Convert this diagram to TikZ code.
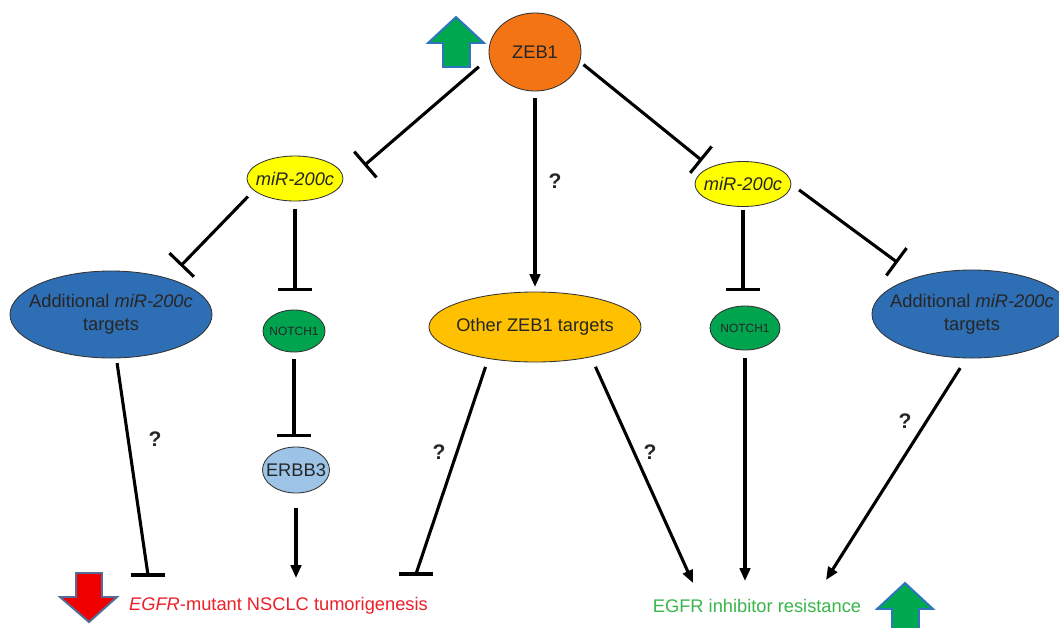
\documentclass[tikz,border=0pt]{standalone}
\usepackage{fontspec}
\setmainfont{Liberation Sans}
\usetikzlibrary{arrows.meta, shapes.geometric}
\definecolor{zeborange}{RGB}{242,116,20}
\definecolor{mirYellow}{RGB}{255,255,0}
\definecolor{tgtblue}{RGB}{46,110,180}
\definecolor{notchgreen}{RGB}{0,163,78}
\definecolor{erbbblue}{RGB}{157,195,230}
\definecolor{othergold}{RGB}{255,192,0}
\definecolor{upgreen}{RGB}{0,168,80}
\definecolor{edgeblue}{RGB}{46,117,190}
\definecolor{downred}{RGB}{240,0,0}
\definecolor{downedge}{RGB}{80,110,150}
\definecolor{tumred}{RGB}{236,32,40}
\definecolor{resgreen}{RGB}{57,181,74}

\begin{document}
\begin{tikzpicture}[
    x=0.025cm, y=-0.025cm,
    oval/.style={ellipse, draw=black!80, line width=0.6pt, inner sep=0pt, outer sep=0pt, text=black!85, font=\fontsize{13}{16.3}\selectfont},
    small/.style={font=\fontsize{8.5}{10}\selectfont},
    act/.style={-{Triangle[length=3.2mm,width=2.6mm]}, line width=2.2pt},
    inh/.style={-{Bar[width=8.5mm]}, line width=2.2pt},
    flat/.style={line width=2.2pt},
    qmark/.style={font=\fontsize{15}{18}\selectfont\bfseries, text=black!85},
    blockarr/.style={line width=1.4pt, line join=miter}
]
    \clip (0,0) rectangle (1059,627);

    % ellipses
    \node (zeb) [oval, fill=zeborange, minimum width=23mm, minimum height=19.5mm] at (535,52) {\makebox[0pt]{ZEB1}};
    \node (mirL) [oval, fill=mirYellow, minimum width=24mm, minimum height=11.25mm] at (295,178.5) {\makebox[0pt]{\textit{miR-200c}}};
    \node (mirR) [oval, fill=mirYellow, minimum width=24mm, minimum height=11.25mm] at (743,184) {\makebox[0pt]{\textit{miR-200c}}};
    \node (addL) [oval, fill=tgtblue, minimum width=50.5mm, minimum height=21.75mm] at (111,314.5) {\makebox[0pt]{\begin{tabular}{@{}c@{}}Additional \textit{miR-200c}\\targets\end{tabular}}};
    \node (notL) [oval, small, fill=notchgreen, minimum width=15.5mm, minimum height=10.5mm] at (294,331) {\makebox[0pt]{NOTCH1}};
    \node (erbb) [oval, fill=erbbblue, minimum width=16.75mm, minimum height=11.5mm] at (296,470) {\makebox[0pt]{ERBB3}};
    \node (other) [oval, fill=othergold, minimum width=53mm, minimum height=17.5mm] at (535,327) {\makebox[0pt]{Other ZEB1 targets}};
    \node (notR) [oval, small, fill=notchgreen, minimum width=17.5mm, minimum height=11mm] at (745,328) {\makebox[0pt]{NOTCH1}};
    \node (addR) [oval, fill=tgtblue, minimum width=50mm, minimum height=22mm] at (972,314) {\makebox[0pt]{\begin{tabular}{@{}c@{}}Additional \textit{miR-200c}\\targets\end{tabular}}};

    % outcomes
    \node (tum) [font=\fontsize{13}{16}\selectfont, text=tumred] at (278.5,606) {\textit{EGFR}-mutant NSCLC tumorigenesis};
    \node (res) [font=\fontsize{13}{16}\selectfont, text=resgreen] at (757,606) {EGFR inhibitor resistance};
    \coordinate (tumL) at (148,575);
    \coordinate (tumM) at (296,578);
    \coordinate (tumR) at (416,574);
    \coordinate (resA) at (693,583);
    \coordinate (resB) at (745,581);
    \coordinate (resC) at (826,580);

    % block arrows
    \draw[blockarr, draw=edgeblue, fill=upgreen] (456,17) -- (484,43) -- (470,43) -- (470,67) -- (443,67) -- (443,43) -- (428,43) -- cycle;
    \draw[blockarr, draw=downedge, fill=downred] (76,573) -- (102,573) -- (102,597) -- (117,597) -- (89,622) -- (60,597) -- (76,597) -- cycle;
    \draw[blockarr, draw=edgeblue, fill=upgreen] (905,583) -- (933,609) -- (919,609) -- (919,640) -- (892,640) -- (892,609) -- (877,609) -- cycle;

    % connectors
    \draw[inh, shorten <=3.5mm, shorten >=8mm] (zeb.187) -- (mirL.-10);
    \draw[inh, shorten <=1.25mm, shorten >=2.7mm] (zeb.-12) -- (mirR.153);
    \draw[act, shorten <=1.75mm, shorten >=1.25mm] (zeb.south) -- (zeb.south |- other.north);
    \draw[inh, shorten <=2.2mm, shorten >=4.4mm] (mirL.196) -- (addL.32);
    \draw[inh, shorten <=2mm, shorten >=4.75mm] (mirL.south) -- (mirL.south |- notL.north);
    \draw[inh, shorten <=1.75mm, shorten >=2.5mm] (notL.south) -- (notL.south |- erbb.north);
    \draw[act, shorten <=3.75mm] (erbb.south) -- (tumM);
    \draw[flat, shorten <=1.3mm] (addL.-83) -- (tumL);
    \draw[flat] ([xshift=-4.25mm]tumL) -- ([xshift=4.25mm]tumL);
    \draw[flat, shorten <=2.25mm] (other.214) -- (tumR);
    \draw[flat] ([xshift=-4.25mm]tumR) -- ([xshift=4.25mm]tumR);
    \draw[act, shorten <=2.75mm] (other.-28) -- (resA);
    \draw[inh, shorten <=0.75mm, shorten >=3.75mm] (mirR.south) -- (mirR.south |- notR.north);
    \draw[inh, shorten <=2.5mm, shorten >=6.1mm] (mirR.east) -- (addR.146);
    \draw[act, shorten <=2mm] (notR.south) -- (resB);
    \draw[act, shorten <=3mm] (addR.-97) -- (resC);

    % question marks
    \node (q1) [qmark] at (555,181) {?};
    \node (q2) [qmark] at (155,439) {?};
    \node (q3) [qmark] at (439,452) {?};
    \node (q4) [qmark] at (650,452) {?};
    \node (q5) [qmark] at (905,421) {?};
\end{tikzpicture}
\end{document}
